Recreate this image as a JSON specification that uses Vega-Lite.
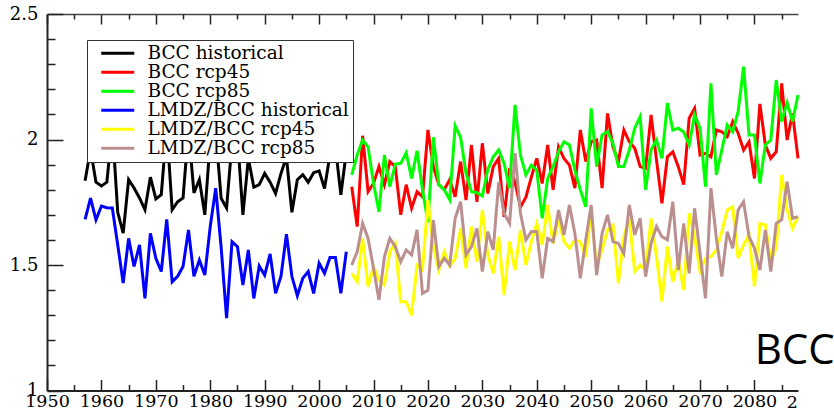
{
"$schema": "https://vega.github.io/schema/vega-lite/v6.json",
"width": 751,
"height": 376.5,
"autosize": {"type": "none"},
"padding": {"left": 47, "top": 14, "right": 36, "bottom": 17.5},
"background": "white",
"config": {
  "view": {"stroke": null},
  "axis": {"labelFont": "DejaVu Serif", "labelFontSize": 18, "labelColor": "#000", "grid": false, "title": null, "domainColor": "#222", "domainWidth": 2, "tickColor": "#222", "tickWidth": 1.5, "labelOverlap": false, "labelFlush": false}
},
"layer": [
{
"data": {"values": [
{"series":"BCC historical","year":1957,"value":1.836},{"series":"BCC historical","year":1958,"value":1.96},{"series":"BCC historical","year":1959,"value":1.83},{"series":"BCC historical","year":1960,"value":1.815},{"series":"BCC historical","year":1961,"value":1.83},{"series":"BCC historical","year":1962,"value":2.05},{"series":"BCC historical","year":1963,"value":1.71},{"series":"BCC historical","year":1964,"value":1.627},{"series":"BCC historical","year":1965,"value":1.84},{"series":"BCC historical","year":1966,"value":1.807},{"series":"BCC historical","year":1967,"value":1.767},{"series":"BCC historical","year":1968,"value":1.72},{"series":"BCC historical","year":1969,"value":1.85},{"series":"BCC historical","year":1970,"value":1.763},{"series":"BCC historical","year":1971,"value":1.78},{"series":"BCC historical","year":1972,"value":2.05},{"series":"BCC historical","year":1973,"value":1.72},{"series":"BCC historical","year":1974,"value":1.752},{"series":"BCC historical","year":1975,"value":1.767},{"series":"BCC historical","year":1976,"value":2.04},{"series":"BCC historical","year":1977,"value":1.787},{"series":"BCC historical","year":1978,"value":1.84},{"series":"BCC historical","year":1979,"value":1.70},{"series":"BCC historical","year":1980,"value":2.0},{"series":"BCC historical","year":1981,"value":2.03},{"series":"BCC historical","year":1982,"value":1.766},{"series":"BCC historical","year":1983,"value":1.727},{"series":"BCC historical","year":1984,"value":1.99},{"series":"BCC historical","year":1985,"value":2.01},{"series":"BCC historical","year":1986,"value":1.70},{"series":"BCC historical","year":1987,"value":1.925},{"series":"BCC historical","year":1988,"value":1.81},{"series":"BCC historical","year":1989,"value":1.82},{"series":"BCC historical","year":1990,"value":1.865},{"series":"BCC historical","year":1991,"value":1.83},{"series":"BCC historical","year":1992,"value":1.785},{"series":"BCC historical","year":1993,"value":1.865},{"series":"BCC historical","year":1994,"value":1.93},{"series":"BCC historical","year":1995,"value":1.71},{"series":"BCC historical","year":1996,"value":1.84},{"series":"BCC historical","year":1997,"value":1.86},{"series":"BCC historical","year":1998,"value":1.83},{"series":"BCC historical","year":1999,"value":1.868},{"series":"BCC historical","year":2000,"value":1.875},{"series":"BCC historical","year":2001,"value":1.805},{"series":"BCC historical","year":2002,"value":1.94},{"series":"BCC historical","year":2003,"value":1.97},{"series":"BCC historical","year":2004,"value":1.78},{"series":"BCC historical","year":2005,"value":1.95},
{"series":"LMDZ/BCC historical","year":1957,"value":1.682},{"series":"LMDZ/BCC historical","year":1958,"value":1.766},{"series":"LMDZ/BCC historical","year":1959,"value":1.68},{"series":"LMDZ/BCC historical","year":1960,"value":1.735},{"series":"LMDZ/BCC historical","year":1961,"value":1.728},{"series":"LMDZ/BCC historical","year":1962,"value":1.727},{"series":"LMDZ/BCC historical","year":1963,"value":1.58},{"series":"LMDZ/BCC historical","year":1964,"value":1.428},{"series":"LMDZ/BCC historical","year":1965,"value":1.606},{"series":"LMDZ/BCC historical","year":1966,"value":1.494},{"series":"LMDZ/BCC historical","year":1967,"value":1.58},{"series":"LMDZ/BCC historical","year":1968,"value":1.367},{"series":"LMDZ/BCC historical","year":1969,"value":1.626},{"series":"LMDZ/BCC historical","year":1970,"value":1.527},{"series":"LMDZ/BCC historical","year":1971,"value":1.474},{"series":"LMDZ/BCC historical","year":1972,"value":1.682},{"series":"LMDZ/BCC historical","year":1973,"value":1.433},{"series":"LMDZ/BCC historical","year":1974,"value":1.455},{"series":"LMDZ/BCC historical","year":1975,"value":1.494},{"series":"LMDZ/BCC historical","year":1976,"value":1.64},{"series":"LMDZ/BCC historical","year":1977,"value":1.455},{"series":"LMDZ/BCC historical","year":1978,"value":1.52},{"series":"LMDZ/BCC historical","year":1979,"value":1.46},{"series":"LMDZ/BCC historical","year":1980,"value":1.654},{"series":"LMDZ/BCC historical","year":1981,"value":1.806},{"series":"LMDZ/BCC historical","year":1982,"value":1.57},{"series":"LMDZ/BCC historical","year":1983,"value":1.288},{"series":"LMDZ/BCC historical","year":1984,"value":1.593},{"series":"LMDZ/BCC historical","year":1985,"value":1.573},{"series":"LMDZ/BCC historical","year":1986,"value":1.42},{"series":"LMDZ/BCC historical","year":1987,"value":1.56},{"series":"LMDZ/BCC historical","year":1988,"value":1.367},{"series":"LMDZ/BCC historical","year":1989,"value":1.496},{"series":"LMDZ/BCC historical","year":1990,"value":1.46},{"series":"LMDZ/BCC historical","year":1991,"value":1.544},{"series":"LMDZ/BCC historical","year":1992,"value":1.387},{"series":"LMDZ/BCC historical","year":1993,"value":1.455},{"series":"LMDZ/BCC historical","year":1994,"value":1.623},{"series":"LMDZ/BCC historical","year":1995,"value":1.455},{"series":"LMDZ/BCC historical","year":1996,"value":1.378},{"series":"LMDZ/BCC historical","year":1997,"value":1.447},{"series":"LMDZ/BCC historical","year":1998,"value":1.474},{"series":"LMDZ/BCC historical","year":1999,"value":1.387},{"series":"LMDZ/BCC historical","year":2000,"value":1.507},{"series":"LMDZ/BCC historical","year":2001,"value":1.467},{"series":"LMDZ/BCC historical","year":2002,"value":1.53},{"series":"LMDZ/BCC historical","year":2003,"value":1.53},{"series":"LMDZ/BCC historical","year":2004,"value":1.387},{"series":"LMDZ/BCC historical","year":2005,"value":1.553},
{"series":"BCC rcp45","year":2006,"value":1.812},{"series":"BCC rcp45","year":2007,"value":1.653},{"series":"BCC rcp45","year":2008,"value":2.015},{"series":"BCC rcp45","year":2009,"value":1.792},{"series":"BCC rcp45","year":2010,"value":1.825},{"series":"BCC rcp45","year":2011,"value":1.892},{"series":"BCC rcp45","year":2012,"value":1.82},{"series":"BCC rcp45","year":2013,"value":1.912},{"series":"BCC rcp45","year":2014,"value":1.892},{"series":"BCC rcp45","year":2015,"value":1.70},{"series":"BCC rcp45","year":2016,"value":1.82},{"series":"BCC rcp45","year":2017,"value":1.726},{"series":"BCC rcp45","year":2018,"value":1.792},{"series":"BCC rcp45","year":2019,"value":1.772},{"series":"BCC rcp45","year":2020,"value":2.038},{"series":"BCC rcp45","year":2021,"value":1.892},{"series":"BCC rcp45","year":2022,"value":1.82},{"series":"BCC rcp45","year":2023,"value":1.80},{"series":"BCC rcp45","year":2024,"value":1.84},{"series":"BCC rcp45","year":2025,"value":1.772},{"series":"BCC rcp45","year":2026,"value":1.912},{"series":"BCC rcp45","year":2027,"value":1.759},{"series":"BCC rcp45","year":2028,"value":1.978},{"series":"BCC rcp45","year":2029,"value":1.752},{"series":"BCC rcp45","year":2030,"value":1.985},{"series":"BCC rcp45","year":2031,"value":1.785},{"series":"BCC rcp45","year":2032,"value":1.892},{"series":"BCC rcp45","year":2033,"value":1.925},{"series":"BCC rcp45","year":2034,"value":1.692},{"series":"BCC rcp45","year":2035,"value":1.885},{"series":"BCC rcp45","year":2036,"value":1.83},{"series":"BCC rcp45","year":2037,"value":1.73},{"series":"BCC rcp45","year":2038,"value":1.77},{"series":"BCC rcp45","year":2039,"value":1.85},{"series":"BCC rcp45","year":2040,"value":1.925},{"series":"BCC rcp45","year":2041,"value":1.825},{"series":"BCC rcp45","year":2042,"value":1.978},{"series":"BCC rcp45","year":2043,"value":1.80},{"series":"BCC rcp45","year":2044,"value":1.971},{"series":"BCC rcp45","year":2045,"value":1.925},{"series":"BCC rcp45","year":2046,"value":1.898},{"series":"BCC rcp45","year":2047,"value":1.806},{"series":"BCC rcp45","year":2048,"value":2.038},{"series":"BCC rcp45","year":2049,"value":1.912},{"series":"BCC rcp45","year":2050,"value":1.991},{"series":"BCC rcp45","year":2051,"value":1.998},{"series":"BCC rcp45","year":2052,"value":1.806},{"series":"BCC rcp45","year":2053,"value":2.104},{"series":"BCC rcp45","year":2054,"value":1.971},{"series":"BCC rcp45","year":2055,"value":1.912},{"series":"BCC rcp45","year":2056,"value":2.038},{"series":"BCC rcp45","year":2057,"value":1.991},{"series":"BCC rcp45","year":2058,"value":1.965},{"series":"BCC rcp45","year":2059,"value":1.892},{"series":"BCC rcp45","year":2060,"value":1.885},{"series":"BCC rcp45","year":2061,"value":2.098},{"series":"BCC rcp45","year":2062,"value":1.918},{"series":"BCC rcp45","year":2063,"value":1.746},{"series":"BCC rcp45","year":2064,"value":1.931},{"series":"BCC rcp45","year":2065,"value":1.951},{"series":"BCC rcp45","year":2066,"value":1.892},{"series":"BCC rcp45","year":2067,"value":1.82},{"series":"BCC rcp45","year":2068,"value":2.085},{"series":"BCC rcp45","year":2069,"value":2.124},{"series":"BCC rcp45","year":2070,"value":1.938},{"series":"BCC rcp45","year":2071,"value":1.945},{"series":"BCC rcp45","year":2072,"value":1.931},{"series":"BCC rcp45","year":2073,"value":2.038},{"series":"BCC rcp45","year":2074,"value":2.031},{"series":"BCC rcp45","year":2075,"value":2.011},{"series":"BCC rcp45","year":2076,"value":2.071},{"series":"BCC rcp45","year":2077,"value":2.025},{"series":"BCC rcp45","year":2078,"value":1.958},{"series":"BCC rcp45","year":2079,"value":1.991},{"series":"BCC rcp45","year":2080,"value":1.845},{"series":"BCC rcp45","year":2081,"value":2.142},{"series":"BCC rcp45","year":2082,"value":1.978},{"series":"BCC rcp45","year":2083,"value":1.925},{"series":"BCC rcp45","year":2084,"value":1.951},{"series":"BCC rcp45","year":2085,"value":2.224},{"series":"BCC rcp45","year":2086,"value":1.998},{"series":"BCC rcp45","year":2087,"value":2.104},{"series":"BCC rcp45","year":2088,"value":1.925},
{"series":"BCC rcp85","year":2006,"value":1.859},{"series":"BCC rcp85","year":2007,"value":1.938},{"series":"BCC rcp85","year":2008,"value":1.998},{"series":"BCC rcp85","year":2009,"value":1.971},{"series":"BCC rcp85","year":2010,"value":1.825},{"series":"BCC rcp85","year":2011,"value":1.712},{"series":"BCC rcp85","year":2012,"value":1.938},{"series":"BCC rcp85","year":2013,"value":1.812},{"series":"BCC rcp85","year":2014,"value":1.902},{"series":"BCC rcp85","year":2015,"value":1.905},{"series":"BCC rcp85","year":2016,"value":1.947},{"series":"BCC rcp85","year":2017,"value":1.845},{"series":"BCC rcp85","year":2018,"value":1.955},{"series":"BCC rcp85","year":2019,"value":1.80},{"series":"BCC rcp85","year":2020,"value":1.67},{"series":"BCC rcp85","year":2021,"value":2.009},{"series":"BCC rcp85","year":2022,"value":1.82},{"series":"BCC rcp85","year":2023,"value":1.80},{"series":"BCC rcp85","year":2024,"value":1.76},{"series":"BCC rcp85","year":2025,"value":2.054},{"series":"BCC rcp85","year":2026,"value":2.009},{"series":"BCC rcp85","year":2027,"value":1.865},{"series":"BCC rcp85","year":2028,"value":1.792},{"series":"BCC rcp85","year":2029,"value":1.788},{"series":"BCC rcp85","year":2030,"value":1.775},{"series":"BCC rcp85","year":2031,"value":1.88},{"series":"BCC rcp85","year":2032,"value":1.931},{"series":"BCC rcp85","year":2033,"value":1.958},{"series":"BCC rcp85","year":2034,"value":1.905},{"series":"BCC rcp85","year":2035,"value":1.806},{"series":"BCC rcp85","year":2036,"value":2.138},{"series":"BCC rcp85","year":2037,"value":1.938},{"series":"BCC rcp85","year":2038,"value":1.859},{"series":"BCC rcp85","year":2039,"value":1.898},{"series":"BCC rcp85","year":2040,"value":1.878},{"series":"BCC rcp85","year":2041,"value":1.686},{"series":"BCC rcp85","year":2042,"value":1.845},{"series":"BCC rcp85","year":2043,"value":1.892},{"series":"BCC rcp85","year":2044,"value":1.951},{"series":"BCC rcp85","year":2045,"value":1.991},{"series":"BCC rcp85","year":2046,"value":1.978},{"series":"BCC rcp85","year":2047,"value":1.878},{"series":"BCC rcp85","year":2048,"value":1.80},{"series":"BCC rcp85","year":2049,"value":1.732},{"series":"BCC rcp85","year":2050,"value":2.124},{"series":"BCC rcp85","year":2051,"value":1.892},{"series":"BCC rcp85","year":2052,"value":2.018},{"series":"BCC rcp85","year":2053,"value":2.031},{"series":"BCC rcp85","year":2054,"value":1.985},{"series":"BCC rcp85","year":2055,"value":1.892},{"series":"BCC rcp85","year":2056,"value":1.892},{"series":"BCC rcp85","year":2057,"value":1.958},{"series":"BCC rcp85","year":2058,"value":2.045},{"series":"BCC rcp85","year":2059,"value":2.091},{"series":"BCC rcp85","year":2060,"value":1.80},{"series":"BCC rcp85","year":2061,"value":1.958},{"series":"BCC rcp85","year":2062,"value":1.998},{"series":"BCC rcp85","year":2063,"value":1.925},{"series":"BCC rcp85","year":2064,"value":2.145},{"series":"BCC rcp85","year":2065,"value":2.038},{"series":"BCC rcp85","year":2066,"value":2.045},{"series":"BCC rcp85","year":2067,"value":2.03},{"series":"BCC rcp85","year":2068,"value":1.978},{"series":"BCC rcp85","year":2069,"value":2.098},{"series":"BCC rcp85","year":2070,"value":2.045},{"series":"BCC rcp85","year":2071,"value":1.812},{"series":"BCC rcp85","year":2072,"value":2.224},{"series":"BCC rcp85","year":2073,"value":1.859},{"series":"BCC rcp85","year":2074,"value":1.958},{"series":"BCC rcp85","year":2075,"value":2.058},{"series":"BCC rcp85","year":2076,"value":2.031},{"series":"BCC rcp85","year":2077,"value":2.111},{"series":"BCC rcp85","year":2078,"value":2.29},{"series":"BCC rcp85","year":2079,"value":2.018},{"series":"BCC rcp85","year":2080,"value":2.018},{"series":"BCC rcp85","year":2081,"value":1.825},{"series":"BCC rcp85","year":2082,"value":1.978},{"series":"BCC rcp85","year":2083,"value":1.998},{"series":"BCC rcp85","year":2084,"value":2.237},{"series":"BCC rcp85","year":2085,"value":2.071},{"series":"BCC rcp85","year":2086,"value":2.147},{"series":"BCC rcp85","year":2087,"value":2.071},{"series":"BCC rcp85","year":2088,"value":2.177},
{"series":"LMDZ/BCC rcp45","year":2006,"value":1.467},{"series":"LMDZ/BCC rcp45","year":2007,"value":1.433},{"series":"LMDZ/BCC rcp45","year":2008,"value":1.606},{"series":"LMDZ/BCC rcp45","year":2009,"value":1.414},{"series":"LMDZ/BCC rcp45","year":2010,"value":1.494},{"series":"LMDZ/BCC rcp45","year":2011,"value":1.44},{"series":"LMDZ/BCC rcp45","year":2012,"value":1.42},{"series":"LMDZ/BCC rcp45","year":2013,"value":1.553},{"series":"LMDZ/BCC rcp45","year":2014,"value":1.586},{"series":"LMDZ/BCC rcp45","year":2015,"value":1.354},{"series":"LMDZ/BCC rcp45","year":2016,"value":1.354},{"series":"LMDZ/BCC rcp45","year":2017,"value":1.30},{"series":"LMDZ/BCC rcp45","year":2018,"value":1.50},{"series":"LMDZ/BCC rcp45","year":2019,"value":1.48},{"series":"LMDZ/BCC rcp45","year":2020,"value":1.759},{"series":"LMDZ/BCC rcp45","year":2021,"value":1.573},{"series":"LMDZ/BCC rcp45","year":2022,"value":1.48},{"series":"LMDZ/BCC rcp45","year":2023,"value":1.553},{"series":"LMDZ/BCC rcp45","year":2024,"value":1.494},{"series":"LMDZ/BCC rcp45","year":2025,"value":1.527},{"series":"LMDZ/BCC rcp45","year":2026,"value":1.646},{"series":"LMDZ/BCC rcp45","year":2027,"value":1.487},{"series":"LMDZ/BCC rcp45","year":2028,"value":1.653},{"series":"LMDZ/BCC rcp45","year":2029,"value":1.513},{"series":"LMDZ/BCC rcp45","year":2030,"value":1.719},{"series":"LMDZ/BCC rcp45","year":2031,"value":1.54},{"series":"LMDZ/BCC rcp45","year":2032,"value":1.467},{"series":"LMDZ/BCC rcp45","year":2033,"value":1.613},{"series":"LMDZ/BCC rcp45","year":2034,"value":1.38},{"series":"LMDZ/BCC rcp45","year":2035,"value":1.593},{"series":"LMDZ/BCC rcp45","year":2036,"value":1.48},{"series":"LMDZ/BCC rcp45","year":2037,"value":1.64},{"series":"LMDZ/BCC rcp45","year":2038,"value":1.50},{"series":"LMDZ/BCC rcp45","year":2039,"value":1.593},{"series":"LMDZ/BCC rcp45","year":2040,"value":1.666},{"series":"LMDZ/BCC rcp45","year":2041,"value":1.58},{"series":"LMDZ/BCC rcp45","year":2042,"value":1.739},{"series":"LMDZ/BCC rcp45","year":2043,"value":1.586},{"series":"LMDZ/BCC rcp45","year":2044,"value":1.679},{"series":"LMDZ/BCC rcp45","year":2045,"value":1.593},{"series":"LMDZ/BCC rcp45","year":2046,"value":1.567},{"series":"LMDZ/BCC rcp45","year":2047,"value":1.60},{"series":"LMDZ/BCC rcp45","year":2048,"value":1.593},{"series":"LMDZ/BCC rcp45","year":2049,"value":1.533},{"series":"LMDZ/BCC rcp45","year":2050,"value":1.712},{"series":"LMDZ/BCC rcp45","year":2051,"value":1.494},{"series":"LMDZ/BCC rcp45","year":2052,"value":1.56},{"series":"LMDZ/BCC rcp45","year":2053,"value":1.64},{"series":"LMDZ/BCC rcp45","year":2054,"value":1.659},{"series":"LMDZ/BCC rcp45","year":2055,"value":1.427},{"series":"LMDZ/BCC rcp45","year":2056,"value":1.613},{"series":"LMDZ/BCC rcp45","year":2057,"value":1.686},{"series":"LMDZ/BCC rcp45","year":2058,"value":1.474},{"series":"LMDZ/BCC rcp45","year":2059,"value":1.50},{"series":"LMDZ/BCC rcp45","year":2060,"value":1.48},{"series":"LMDZ/BCC rcp45","year":2061,"value":1.686},{"series":"LMDZ/BCC rcp45","year":2062,"value":1.533},{"series":"LMDZ/BCC rcp45","year":2063,"value":1.354},{"series":"LMDZ/BCC rcp45","year":2064,"value":1.573},{"series":"LMDZ/BCC rcp45","year":2065,"value":1.433},{"series":"LMDZ/BCC rcp45","year":2066,"value":1.52},{"series":"LMDZ/BCC rcp45","year":2067,"value":1.40},{"series":"LMDZ/BCC rcp45","year":2068,"value":1.706},{"series":"LMDZ/BCC rcp45","year":2069,"value":1.613},{"series":"LMDZ/BCC rcp45","year":2070,"value":1.474},{"series":"LMDZ/BCC rcp45","year":2071,"value":1.527},{"series":"LMDZ/BCC rcp45","year":2072,"value":1.533},{"series":"LMDZ/BCC rcp45","year":2073,"value":1.56},{"series":"LMDZ/BCC rcp45","year":2074,"value":1.633},{"series":"LMDZ/BCC rcp45","year":2075,"value":1.719},{"series":"LMDZ/BCC rcp45","year":2076,"value":1.732},{"series":"LMDZ/BCC rcp45","year":2077,"value":1.527},{"series":"LMDZ/BCC rcp45","year":2078,"value":1.58},{"series":"LMDZ/BCC rcp45","year":2079,"value":1.62},{"series":"LMDZ/BCC rcp45","year":2080,"value":1.414},{"series":"LMDZ/BCC rcp45","year":2081,"value":1.666},{"series":"LMDZ/BCC rcp45","year":2082,"value":1.66},{"series":"LMDZ/BCC rcp45","year":2083,"value":1.52},{"series":"LMDZ/BCC rcp45","year":2084,"value":1.567},{"series":"LMDZ/BCC rcp45","year":2085,"value":1.859},{"series":"LMDZ/BCC rcp45","year":2086,"value":1.719},{"series":"LMDZ/BCC rcp45","year":2087,"value":1.646},{"series":"LMDZ/BCC rcp45","year":2088,"value":1.692},
{"series":"LMDZ/BCC rcp85","year":2006,"value":1.50},{"series":"LMDZ/BCC rcp85","year":2007,"value":1.553},{"series":"LMDZ/BCC rcp85","year":2008,"value":1.666},{"series":"LMDZ/BCC rcp85","year":2009,"value":1.606},{"series":"LMDZ/BCC rcp85","year":2010,"value":1.487},{"series":"LMDZ/BCC rcp85","year":2011,"value":1.361},{"series":"LMDZ/BCC rcp85","year":2012,"value":1.533},{"series":"LMDZ/BCC rcp85","year":2013,"value":1.606},{"series":"LMDZ/BCC rcp85","year":2014,"value":1.573},{"series":"LMDZ/BCC rcp85","year":2015,"value":1.513},{"series":"LMDZ/BCC rcp85","year":2016,"value":1.56},{"series":"LMDZ/BCC rcp85","year":2017,"value":1.54},{"series":"LMDZ/BCC rcp85","year":2018,"value":1.64},{"series":"LMDZ/BCC rcp85","year":2019,"value":1.387},{"series":"LMDZ/BCC rcp85","year":2020,"value":1.40},{"series":"LMDZ/BCC rcp85","year":2021,"value":1.679},{"series":"LMDZ/BCC rcp85","year":2022,"value":1.494},{"series":"LMDZ/BCC rcp85","year":2023,"value":1.527},{"series":"LMDZ/BCC rcp85","year":2024,"value":1.50},{"series":"LMDZ/BCC rcp85","year":2025,"value":1.686},{"series":"LMDZ/BCC rcp85","year":2026,"value":1.752},{"series":"LMDZ/BCC rcp85","year":2027,"value":1.54},{"series":"LMDZ/BCC rcp85","year":2028,"value":1.573},{"series":"LMDZ/BCC rcp85","year":2029,"value":1.646},{"series":"LMDZ/BCC rcp85","year":2030,"value":1.474},{"series":"LMDZ/BCC rcp85","year":2031,"value":1.633},{"series":"LMDZ/BCC rcp85","year":2032,"value":1.56},{"series":"LMDZ/BCC rcp85","year":2033,"value":1.83},{"series":"LMDZ/BCC rcp85","year":2034,"value":1.706},{"series":"LMDZ/BCC rcp85","year":2035,"value":1.666},{"series":"LMDZ/BCC rcp85","year":2036,"value":1.946},{"series":"LMDZ/BCC rcp85","year":2037,"value":1.706},{"series":"LMDZ/BCC rcp85","year":2038,"value":1.60},{"series":"LMDZ/BCC rcp85","year":2039,"value":1.633},{"series":"LMDZ/BCC rcp85","year":2040,"value":1.633},{"series":"LMDZ/BCC rcp85","year":2041,"value":1.447},{"series":"LMDZ/BCC rcp85","year":2042,"value":1.606},{"series":"LMDZ/BCC rcp85","year":2043,"value":1.593},{"series":"LMDZ/BCC rcp85","year":2044,"value":1.719},{"series":"LMDZ/BCC rcp85","year":2045,"value":1.62},{"series":"LMDZ/BCC rcp85","year":2046,"value":1.739},{"series":"LMDZ/BCC rcp85","year":2047,"value":1.626},{"series":"LMDZ/BCC rcp85","year":2048,"value":1.447},{"series":"LMDZ/BCC rcp85","year":2049,"value":1.60},{"series":"LMDZ/BCC rcp85","year":2050,"value":1.739},{"series":"LMDZ/BCC rcp85","year":2051,"value":1.46},{"series":"LMDZ/BCC rcp85","year":2052,"value":1.626},{"series":"LMDZ/BCC rcp85","year":2053,"value":1.70},{"series":"LMDZ/BCC rcp85","year":2054,"value":1.593},{"series":"LMDZ/BCC rcp85","year":2055,"value":1.586},{"series":"LMDZ/BCC rcp85","year":2056,"value":1.546},{"series":"LMDZ/BCC rcp85","year":2057,"value":1.739},{"series":"LMDZ/BCC rcp85","year":2058,"value":1.62},{"series":"LMDZ/BCC rcp85","year":2059,"value":1.686},{"series":"LMDZ/BCC rcp85","year":2060,"value":1.454},{"series":"LMDZ/BCC rcp85","year":2061,"value":1.586},{"series":"LMDZ/BCC rcp85","year":2062,"value":1.653},{"series":"LMDZ/BCC rcp85","year":2063,"value":1.613},{"series":"LMDZ/BCC rcp85","year":2064,"value":1.60},{"series":"LMDZ/BCC rcp85","year":2065,"value":1.752},{"series":"LMDZ/BCC rcp85","year":2066,"value":1.48},{"series":"LMDZ/BCC rcp85","year":2067,"value":1.666},{"series":"LMDZ/BCC rcp85","year":2068,"value":1.467},{"series":"LMDZ/BCC rcp85","year":2069,"value":1.726},{"series":"LMDZ/BCC rcp85","year":2070,"value":1.546},{"series":"LMDZ/BCC rcp85","year":2071,"value":1.367},{"series":"LMDZ/BCC rcp85","year":2072,"value":1.806},{"series":"LMDZ/BCC rcp85","year":2073,"value":1.606},{"series":"LMDZ/BCC rcp85","year":2074,"value":1.454},{"series":"LMDZ/BCC rcp85","year":2075,"value":1.633},{"series":"LMDZ/BCC rcp85","year":2076,"value":1.567},{"series":"LMDZ/BCC rcp85","year":2077,"value":1.719},{"series":"LMDZ/BCC rcp85","year":2078,"value":1.752},{"series":"LMDZ/BCC rcp85","year":2079,"value":1.613},{"series":"LMDZ/BCC rcp85","year":2080,"value":1.567},{"series":"LMDZ/BCC rcp85","year":2081,"value":1.48},{"series":"LMDZ/BCC rcp85","year":2082,"value":1.64},{"series":"LMDZ/BCC rcp85","year":2083,"value":1.474},{"series":"LMDZ/BCC rcp85","year":2084,"value":1.666},{"series":"LMDZ/BCC rcp85","year":2085,"value":1.68},{"series":"LMDZ/BCC rcp85","year":2086,"value":1.832},{"series":"LMDZ/BCC rcp85","year":2087,"value":1.686},{"series":"LMDZ/BCC rcp85","year":2088,"value":1.692}
]},
"mark": {"type": "line", "strokeWidth": 3},
"encoding": {
  "x": {"field": "year", "type": "quantitative",
        "scale": {"domain": [1950, 2088], "nice": false, "zero": false},
        "axis": {"orient": "bottom", "values": [1950,1960,1970,1980,1990,2000,2010,2020,2030,2040,2050,2060,2070,2080],
                 "format": "d", "labelFontSize": 17.5, "tickSize": -11, "labelPadding": 13}},
  "y": {"field": "value", "type": "quantitative",
        "scale": {"domain": [1, 2.5], "nice": false, "zero": false},
        "axis": {"orient": "left", "values": [1,1.5,2,2.5], "format": "~g",
                 "tickSize": -16, "labelPadding": 25}},
  "color": {"field": "series", "type": "nominal",
            "scale": {"domain": ["BCC historical","BCC rcp45","BCC rcp85","LMDZ/BCC historical","LMDZ/BCC rcp45","LMDZ/BCC rcp85"],
                      "range": ["#000000","#ff0000","#00ff00","#0000ff","#ffff00","#bc8f8f"]},
            "legend": {"orient": "none", "legendX": 40, "legendY": 26, "title": null,
                       "symbolType": "M0.2,0H6.8", "symbolSize": 100, "symbolStrokeWidth": 3,
                       "labelFont": "DejaVu Serif", "labelFontSize": 18.5, "labelColor": "#000", "labelOffset": 38, "labelLimit": 400,
                       "labelExpr": "datum.label + '  '",
                       "padding": 4, "rowPadding": -1.5, "strokeColor": "#333", "fillColor": "white", "cornerRadius": 0, "zindex": 1}}
}
},
{
"data": {"values": [{"label": "BCC"}]},
"mark": {"type": "text", "font": "Open Sans", "fontSize": 42, "align": "center", "baseline": "alphabetic", "color": "#000"},
"encoding": {
  "x": {"datum": 2087.4, "type": "quantitative",
        "scale": {"domain": [1950, 2088], "nice": false, "zero": false},
        "axis": {"orient": "top", "values": [1950,1960,1970,1980,1990,2000,2010,2020,2030,2040,2050,2060,2070,2080],
                 "labels": false, "tickSize": -10, "domainColor": "#444", "domainWidth": 1.5}},
  "y": {"datum": 1.106, "type": "quantitative", "axis": null},
  "text": {"field": "label"}
}
},
{
"data": {"values": [{"label": "2"}]},
"mark": {"type": "text", "font": "DejaVu Serif", "fontSize": 17.5, "align": "right", "baseline": "top", "dy": 3.5, "color": "#000"},
"encoding": {
  "x": {"datum": 2088, "type": "quantitative",
        "scale": {"domain": [1950, 2088], "nice": false, "zero": false},
        "axis": {"orient": "bottom", "values": [1955,1965,1975,1985,1995,2005,2015,2025,2035,2045,2055,2065,2075,2085],
                 "labels": false, "domain": false, "tickSize": -6}},
  "y": {"datum": 1, "type": "quantitative",
        "axis": {"orient": "left", "values": [1.1,1.2,1.3,1.4,1.6,1.7,1.8,1.9,2.1,2.2,2.3,2.4],
                 "labels": false, "domain": false, "tickSize": -8}},
  "text": {"field": "label"}
}
},
{
"data": {"values": [{"label": ""}]},
"mark": {"type": "text"},
"encoding": {
  "x": {"datum": 2087.4, "type": "quantitative",
        "scale": {"domain": [1950, 2088], "nice": false, "zero": false},
        "axis": {"orient": "top", "values": [1955,1965,1975,1985,1995,2005,2015,2025,2035,2045,2055,2065,2075,2085],
                 "labels": false, "domain": false, "tickSize": -5}},
  "y": {"datum": 1.106, "type": "quantitative", "axis": null},
  "text": {"field": "label"}
}
}
],
"resolve": {"axis": {"x": "independent", "y": "independent"}}
}
